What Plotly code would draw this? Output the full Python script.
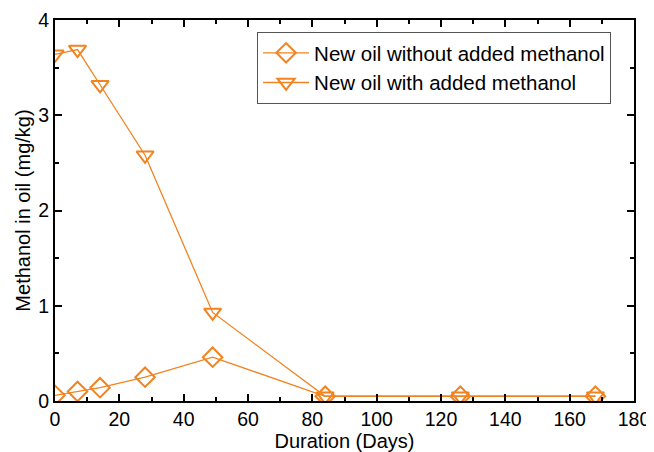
import plotly.graph_objects as go

days = [0, 7, 14, 28, 49, 84, 126, 168]
without_added = [0.06, 0.10, 0.14, 0.25, 0.46, 0.05, 0.05, 0.05]
with_added = [3.64, 3.69, 3.32, 2.58, 0.93, 0.05, 0.05, 0.05]
x_ticks = [0, 20, 40, 60, 80, 100, 120, 140, 160, 180]
y_ticks = [0, 1, 2, 3, 4]

orange = "#F08420"
font_family = "Liberation Sans, Arial"
fig = go.Figure()
fig.add_trace(go.Scatter(
    x=days, y=without_added, mode="lines+markers",
    name="New oil without added methanol",
    line=dict(color=orange, width=1.3),
    marker=dict(symbol="diamond-open", size=15, color=orange, line=dict(width=2, color=orange)),
    cliponaxis=True,
))
fig.add_trace(go.Scatter(
    x=days, y=with_added, mode="lines+markers",
    name="New oil with added methanol",
    line=dict(color=orange, width=1.3),
    marker=dict(symbol="triangle-down-open", size=15, color=orange, line=dict(width=2, color=orange)),
    cliponaxis=True,
))

axis_common = dict(
    showline=True, linecolor="black", linewidth=2, mirror="allticks",
    ticks="inside", ticklen=7, tickwidth=2, tickcolor="black",
    showgrid=False, zeroline=False, automargin=False,
    tickfont=dict(family=font_family, size=19.5, color="black"),
)
fig.update_xaxes(
    range=[0, 180], tickvals=x_ticks,
    minor=dict(dtick=10, ticks="inside", ticklen=4, tickwidth=1.5, tickcolor="black"),
    title=dict(text="Duration (Days)", font=dict(family=font_family, size=20, color="black"), standoff=0),
    **axis_common,
)
fig.update_yaxes(
    range=[0, 4], tickvals=y_ticks,
    minor=dict(dtick=0.5, ticks="inside", ticklen=4, tickwidth=1.5, tickcolor="black"),
    title=dict(text="Methanol in oil (mg/kg)", font=dict(family=font_family, size=20, color="black"), standoff=2),
    **axis_common,
)
fig.update_layout(
    width=646, height=444,
    margin=dict(l=47, r=20, t=12, b=51),
    paper_bgcolor="white", plot_bgcolor="white",
    showlegend=True,
    legend=dict(
        x=0.349, y=0.9685, xanchor="left", yanchor="top",
        bordercolor="#555555", borderwidth=1, bgcolor="white",
        font=dict(family=font_family, size=20.5, color="black"),
        tracegroupgap=0, itemwidth=46,
    ),
)
fig.write_html("out.html")
